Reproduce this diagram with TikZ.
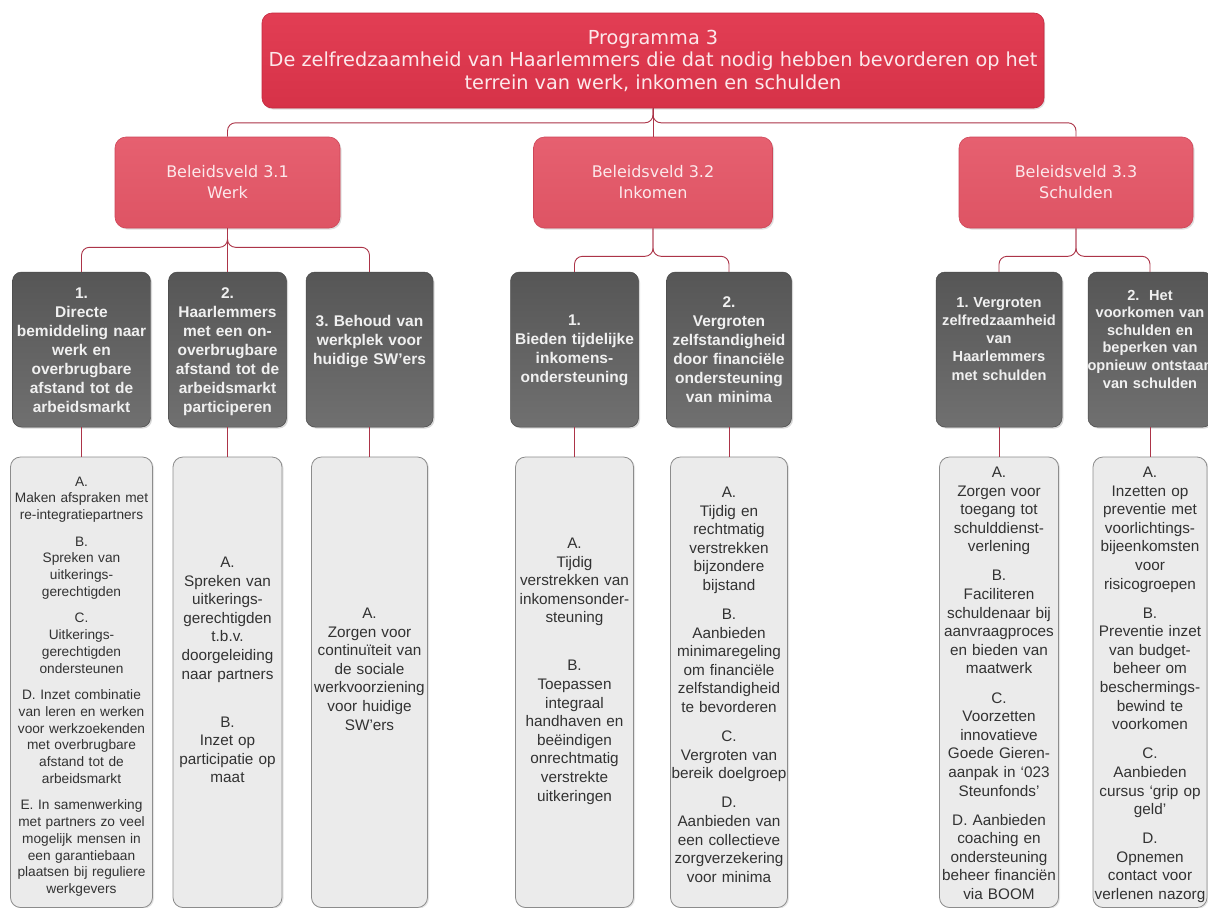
\documentclass[tikz,border=0pt]{standalone}
\usepackage{fontspec}
\setmainfont{Liberation Sans}
\newfontfamily\dvfont{DejaVu Sans}
\usetikzlibrary{shadows}
\definecolor{progtop}{RGB}{226,62,84}
\definecolor{progbot}{RGB}{214,50,72}
\definecolor{progborder}{RGB}{196,40,62}
\definecolor{bvtop}{RGB}{230,96,112}
\definecolor{bvbot}{RGB}{222,84,100}
\definecolor{bvborder}{RGB}{206,70,88}
\definecolor{redtext}{RGB}{252,232,235}
\definecolor{darktop}{RGB}{86,86,86}
\definecolor{darkbot}{RGB}{112,112,112}
\definecolor{darkborder}{RGB}{74,74,74}
\definecolor{lightfill}{RGB}{235,235,235}
\definecolor{lightborder}{RGB}{140,140,140}
\definecolor{lighttextc}{RGB}{50,50,50}
\definecolor{connred}{RGB}{172,52,72}
\begin{document}
\frenchspacing
\begin{tikzpicture}[x=1pt,y=-1pt,
  progbox/.style={rectangle, rounded corners=10pt, draw=progborder, line width=0.6pt,
    top color=progtop, bottom color=progbot, text=redtext, align=center,
    font=\dvfont\fontsize{19.3}{22.5}\selectfont, inner sep=0pt,
    minimum width=782pt, minimum height=95pt,
    drop shadow={shadow xshift=1.2pt, shadow yshift=-1.5pt, opacity=0.25}},
  bvbox/.style={rectangle, rounded corners=11pt, draw=bvborder, line width=0.6pt,
    top color=bvtop, bottom color=bvbot, text=redtext, align=center,
    font=\dvfont\fontsize{16}{21}\selectfont, inner sep=0pt,
    minimum height=91pt,
    drop shadow={shadow xshift=1.5pt, shadow yshift=-1.5pt, opacity=0.25}},
  darkbox/.style={rectangle, rounded corners=9pt, draw=darkborder, line width=0.5pt,
    top color=darktop, bottom color=darkbot, inner sep=0pt, minimum height=155pt,
    drop shadow={shadow xshift=1.5pt, shadow yshift=-1.5pt, opacity=0.3}},
  darktext/.style={anchor=base, align=center, text width=170pt, inner sep=0pt,
    text={white!94!black}, font=\bfseries\fontsize{15.5}{19}\selectfont},
  darktextsm/.style={darktext, font=\bfseries\fontsize{14.6}{18.3}\selectfont},
  lightbox/.style={rectangle, rounded corners=10pt, draw=lightborder, line width=0.8pt,
    fill=lightfill, inner sep=0pt, minimum height=450.5pt,
    drop shadow={shadow xshift=1.5pt, shadow yshift=-1pt, opacity=0.2}},
  lighttext/.style={anchor=base, align=center, text width=170pt, inner sep=0pt,
    text=lighttextc, font=\fontsize{15.3}{18.6}\selectfont},
  lighttextsm/.style={lighttext, font=\fontsize{13.7}{16.7}\selectfont},
  conn/.style={draw=connred, line width=0.9pt, rounded corners=8pt}
]
\path[use as bounding box, fill=white] (0,0) rectangle (1208,908);

% top
\node[progbox] (prog) at (653,60.5) {Programma 3\\De zelfredzaamheid van Haarlemmers die dat nodig hebben bevorderen op het\\terrein van werk, inkomen en schulden};

% beleidsvelden
\node[bvbox, minimum width=225pt] (bv1) at (227.5,182.5) {Beleidsveld 3.1\\Werk};
\node[bvbox, minimum width=239pt] (bv2) at (653,182.5) {Beleidsveld 3.2\\Inkomen};
\node[bvbox, minimum width=234pt] (bv3) at (1076,182.5) {Beleidsveld 3.3\\Schulden};

% dark boxes
\node[darkbox, minimum width=138pt] (d11) at (81.5,349.5) {};
\node[darkbox, minimum width=118pt] (d12) at (227.5,349.5) {};
\node[darkbox, minimum width=127pt] (d13) at (369.5,349.5) {};
\node[darkbox, minimum width=128pt] (d21) at (574.5,349.5) {};
\node[darkbox, minimum width=125pt] (d22) at (729,349.5) {};
\node[darkbox, minimum width=126pt] (d31) at (999,349.5) {};
\node[darkbox, minimum width=124pt] (d32) at (1150,349.5) {};

\node[darktext] (d11t) at (81.5,298) {1.\\Directe\\bemiddeling naar\\werk en\\overbrugbare\\afstand tot de\\arbeidsmarkt};
\node[darktext] (d12t) at (227.5,298) {2.\\Haarlemmers\\met een on-\\overbrugbare\\afstand tot de\\arbeidsmarkt\\participeren};
\node[darktext] (d13t) at (369.5,326) {3. Behoud van\\werkplek voor\\huidige SW’ers};
\node[darktext] (d21t) at (574.5,325) {1.\\Bieden tijdelijke\\inkomens-\\ondersteuning};
\node[darktext] (d22t) at (729,307) {2.\\Vergroten\\zelfstandigheid\\door financiële\\ondersteuning\\van minima};
\node[darktextsm] (d31t) at (999,307) {1. Vergroten\\zelfredzaamheid\\van\\Haarlemmers\\met schulden};
\node[darktextsm, font=\bfseries\fontsize{14.6}{17.6}\selectfont] (d32t) at (1150,300) {2.~ Het\\voorkomen van\\schulden en\\beperken van\\opnieuw ontstaan\\van schulden};

% light boxes
\node[lightbox, minimum width=142pt] (l11) at (81.5,682.25) {};
\node[lightbox, minimum width=109pt] (l12) at (227.5,682.25) {};
\node[lightbox, minimum width=116pt] (l13) at (369.5,682.25) {};
\node[lightbox, minimum width=118pt] (l21) at (574.5,682.25) {};
\node[lightbox, minimum width=117pt] (l22) at (729,682.25) {};
\node[lightbox, minimum width=119pt] (l31) at (999,682.25) {};
\node[lightbox, minimum width=114pt] (l32) at (1150,682.25) {};

\node[lighttextsm] (l11t) at (81.5,486) {A.\\Maken afspraken met\\re-integratiepartners\\[10pt]B.\\Spreken van\\uitkerings-\\gerechtigden\\[10pt]C.\\Uitkerings-\\gerechtigden\\ondersteunen\\[10pt]D. Inzet combinatie\\van leren en werken\\voor werkzoekenden\\met overbrugbare\\afstand tot de\\arbeidsmarkt\\[10pt]E. In samenwerking\\met partners zo veel\\mogelijk mensen in\\een garantiebaan\\plaatsen bij reguliere\\werkgevers};
\node[lighttext] (l12t) at (227.5,567.4) {A.\\Spreken van\\uitkerings-\\gerechtigden\\t.b.v.\\doorgeleiding\\naar partners\\[29.5pt]B.\\Inzet op\\participatie op\\maat};
\node[lighttext] (l13t) at (369.5,618.4) {A.\\Zorgen voor\\continuïteit van\\de sociale\\werkvoorziening\\voor huidige\\SW’ers};
\node[lighttext] (l21t) at (574.5,548.4) {A.\\Tijdig\\verstrekken van\\inkomensonder-\\steuning\\[29.5pt]B.\\Toepassen\\integraal\\handhaven en\\beëindigen\\onrechtmatig\\verstrekte\\uitkeringen};
\node[lighttext] (l22t) at (729,497.4) {A.\\Tijdig en\\rechtmatig\\verstrekken\\bijzondere\\bijstand\\[10.5pt]B.\\Aanbieden\\minimaregeling\\om financiële\\zelfstandigheid\\te bevorderen\\[10.5pt]C.\\Vergroten van\\bereik doelgroep\\[10.5pt]D.\\Aanbieden van\\een collectieve\\zorgverzekering\\voor minima};
\node[lighttext] (l31t) at (999,477.4) {A.\\Zorgen voor\\toegang tot\\schulddienst-\\verlening\\[10.5pt]B.\\Faciliteren\\schuldenaar bij\\aanvraagproces\\en bieden van\\maatwerk\\[10.5pt]C.\\Voorzetten\\innovatieve\\Goede Gieren-\\aanpak in ‘023\\Steunfonds’\\[10.5pt]D. Aanbieden\\coaching en\\ondersteuning\\beheer financiën\\via BOOM};
\node[lighttext] (l32t) at (1150,477.4) {A.\\Inzetten op\\preventie met\\voorlichtings-\\bijeenkomsten\\voor\\risicogroepen\\[10.5pt]B.\\Preventie inzet\\van budget-\\beheer om\\beschermings-\\bewind te\\voorkomen\\[10.5pt]C.\\Aanbieden\\cursus ‘grip op\\geld’\\[10.5pt]D.\\Opnemen\\contact voor\\verlenen nazorg};

% connectors
\draw[conn] (prog.south) -- ++(0,14.5) -| (bv1.north);
\draw[conn] (prog.south) -- (bv2.north);
\draw[conn] (prog.south) -- ++(0,14.5) -| (bv3.north);

\draw[conn] (bv1.south) -- ++(0,19) -| (d11.north);
\draw[conn] (bv1.south) -- (d12.north);
\draw[conn] (bv1.south) -- ++(0,19) -| (d13.north);
\draw[conn] (bv2.south) -- ++(0,28) -| (d21.north);
\draw[conn] (bv2.south) -- ++(0,28) -| (d22.north);
\draw[conn] (bv3.south) -- ++(0,28) -| (d31.north);
\draw[conn] (bv3.south) -- ++(0,28) -| (d32.north);

\draw[conn] (d11.south) -- (l11.north);
\draw[conn] (d12.south) -- (l12.north);
\draw[conn] (d13.south) -- (l13.north);
\draw[conn] (d21.south) -- (l21.north);
\draw[conn] (d22.south) -- (l22.north);
\draw[conn] (d31.south) -- (l31.north);
\draw[conn] (d32.south) -- (l32.north);
\end{tikzpicture}
\end{document}
